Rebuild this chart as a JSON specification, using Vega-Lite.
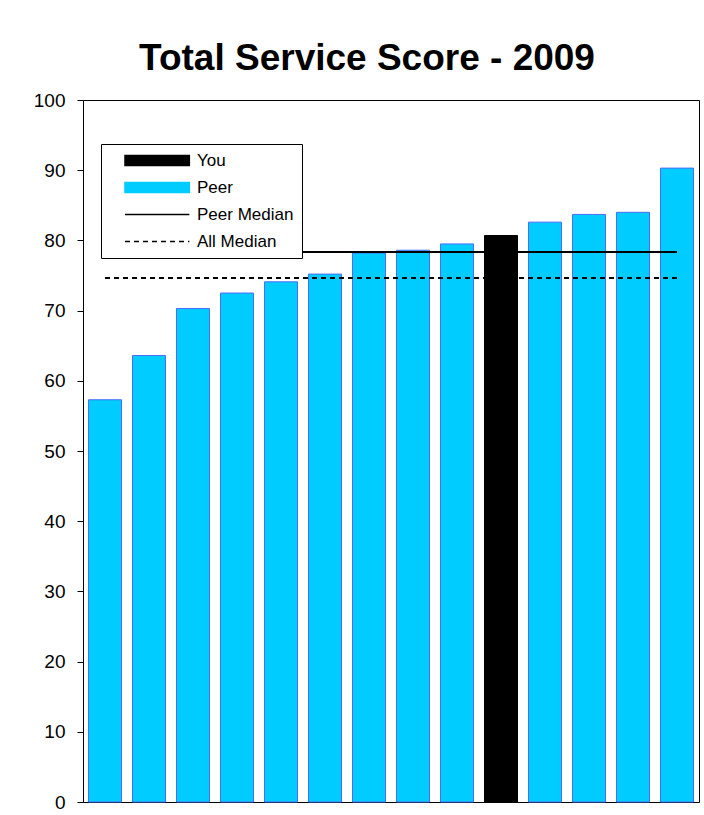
{
  "$schema": "https://vega.github.io/schema/vega-lite/v6.json",
  "width": 616,
  "height": 702,
  "autosize": {"type": "none"},
  "padding": {"left": 83, "top": 100, "right": 5, "bottom": 13},
  "background": "white",
  "title": {
    "text": "Total Service Score - 2009",
    "font": "Liberation Sans",
    "fontSize": 37,
    "fontWeight": "bold",
    "color": "black",
    "anchor": "middle",
    "frame": "group",
    "baseline": "alphabetic",
    "dx": -24,
    "dy": 47,
    "offset": 31
  },
  "config": {
    "view": {"stroke": "black", "strokeWidth": 1},
    "font": "Liberation Sans",
    "legend": {"symbolOpacity": 1, "symbolStrokeWidth": 1.5}
  },
  "datasets": {
    "bars": [
      {"id": 1, "series": "Peer", "score": 57.3},
      {"id": 2, "series": "Peer", "score": 63.6},
      {"id": 3, "series": "Peer", "score": 70.3},
      {"id": 4, "series": "Peer", "score": 72.5},
      {"id": 5, "series": "Peer", "score": 74.1},
      {"id": 6, "series": "Peer", "score": 75.2},
      {"id": 7, "series": "Peer", "score": 78.2},
      {"id": 8, "series": "Peer", "score": 78.6},
      {"id": 9, "series": "Peer", "score": 79.5},
      {"id": 10, "series": "You", "score": 80.7},
      {"id": 11, "series": "Peer", "score": 82.6},
      {"id": 12, "series": "Peer", "score": 83.7},
      {"id": 13, "series": "Peer", "score": 84.0},
      {"id": 14, "series": "Peer", "score": 90.3}
    ],
    "medians": [
      {"id": 1, "series": "Peer Median", "score": 78.35},
      {"id": 14, "series": "Peer Median", "score": 78.35},
      {"id": 1, "series": "All Median", "score": 74.65},
      {"id": 14, "series": "All Median", "score": 74.65}
    ]
  },
  "layer": [
    {
      "data": {"name": "bars"},
      "mark": {"type": "bar", "strokeWidth": 1, "opacity": 1},
      "encoding": {
        "x": {
          "field": "id",
          "type": "ordinal",
          "axis": null,
          "scale": {"paddingInner": 0.25, "paddingOuter": 0.125}
        },
        "y": {
          "field": "score",
          "type": "quantitative",
          "scale": {"domain": [0, 100], "nice": false},
          "axis": {
            "values": [0, 10, 20, 30, 40, 50, 60, 70, 80, 90, 100],
            "title": null,
            "grid": false,
            "tickSize": 6,
            "labelPadding": 12,
            "labelFontSize": 19,
            "labelFont": "Liberation Sans",
            "labelColor": "black",
            "domainColor": "black",
            "tickColor": "black"
          }
        },
        "color": {
          "field": "series",
          "type": "nominal",
          "scale": {
            "domain": ["You", "Peer", "Peer Median", "All Median"],
            "range": ["#000000", "#00ccff", "#000000", "#000000"]
          },
          "legend": {
            "title": null,
            "orient": "none",
            "legendX": 18,
            "legendY": 44,
            "strokeColor": "black",
            "fillColor": "white",
            "padding": 8,
            "rowPadding": 9,
            "symbolSize": 121,
            "symbolOffset": 13,
            "labelOffset": 58,
            "labelFont": "Liberation Sans",
            "labelFontSize": 17,
            "labelColor": "black"
          }
        },
        "stroke": {
          "condition": {"test": "datum.series === 'You'", "value": "#000000"},
          "value": "#4a6cff"
        }
      }
    },
    {
      "data": {"name": "medians"},
      "mark": {"type": "line", "strokeWidth": 2},
      "encoding": {
        "x": {"field": "id", "type": "ordinal"},
        "y": {"field": "score", "type": "quantitative"},
        "color": {"field": "series", "type": "nominal", "legend": {"title": null}},
        "strokeDash": {
          "field": "series",
          "type": "nominal",
          "scale": {
            "domain": ["You", "Peer", "Peer Median", "All Median"],
            "range": [[1, 0], [1, 0], [1, 0], [5, 4]]
          },
          "legend": {"title": null}
        }
      }
    },
    {
      "data": {"name": "medians"},
      "mark": {"type": "point", "filled": true, "opacity": 0},
      "encoding": {
        "x": {"field": "id", "type": "ordinal"},
        "y": {"field": "score", "type": "quantitative"},
        "color": {"field": "series", "type": "nominal", "legend": {"title": null}},
        "shape": {
          "field": "series",
          "type": "nominal",
          "scale": {
            "domain": ["You", "Peer", "Peer Median", "All Median"],
            "range": ["M-1,-0.9H10.7V0.9H-1Z", "M-1,-0.9H10.7V0.9H-1Z", "M-1,0H10.7", "M-1,0H10.7"]
          },
          "legend": {"title": null}
        }
      }
    }
  ]
}
